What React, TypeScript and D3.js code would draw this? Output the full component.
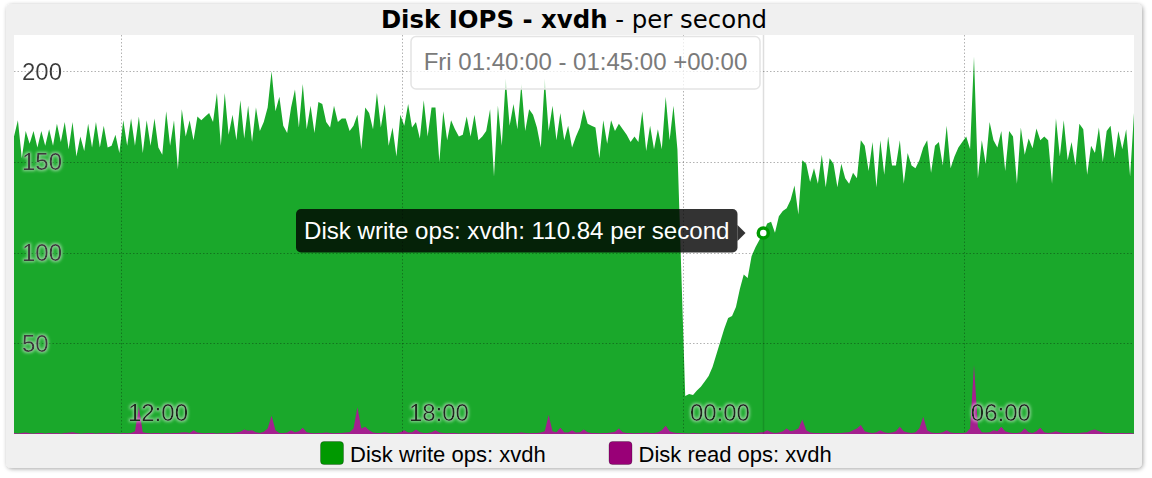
import React from 'react';
import * as d3 from 'd3';

// ---- data ----
const startTime = Date.UTC(2016, 0, 7, 9, 43); // Thu 09:43 UTC
const stepMs = 5 * 60 * 1000;

const writeOps: number[] = [
  164,173,152,167,160,167,158,167,159,168,159,171,161,172,157,172,153,164,156,171,158,172,158,170,
  158,159,165,155,173,159,174,159,175,155,173,159,174,158,154,178,159,173,146,179,164,173,162,175,
  173,175,177,172,188,159,188,165,176,162,184,163,181,161,180,167,172,180,200,178,186,170,166,180,
  190,169,193,168,181,166,183,182,172,169,181,172,174,174,167,170,176,157,180,177,168,188,169,182,
  159,169,153,176,170,182,169,172,163,184,164,180,180,150,178,162,173,168,164,165,175,164,176,162,
  164,167,179,142,181,159,196,170,182,168,193,167,179,176,169,158,196,167,181,162,177,162,170,158,
  164,169,179,171,170,169,152,173,160,173,167,171,168,165,161,164,161,178,156,170,157,168,157,186,
  162,181,157,89,21,22,21.5,24,26,29,32,37,44,51,58,64,65,70,80,88,86,98,103,107,
  110.84,116,117,111,120,123,124.5,129,137,121,151,149,139,146.5,138,154,136,152,149,136,149,141,138,144,
  141,162,159,145,161,136,162,143,164,148,148,162,138,155,148,146.5,151,158,162,144,159,161,148,170,
  146.5,153,158,161,164,157,208,141,162,149,172,162,158,167,145,167,164,138,169,154,163,157.5,168.5,162,
  164,162,138,174,153,173,151,161,148,171,168,143,159,155,169,150,167,170,152,167,157,168,142,177,
];

const readOps: number[] = [
  0.5,0.3,0.5,0.8,0.4,0.3,0.5,0.6,0.3,0.5,0.4,0.6,0.3,0.5,0.7,1,0.5,0.3,0.4,0.6,0.5,0.3,0.5,0.4,
  0.5,0.6,0.4,0.3,0.5,0.4,0.6,1.5,15,1,0.5,0.4,0.6,0.5,0.3,0.5,0.4,0.6,0.5,0.8,1,0.6,2,0.8,
  0.5,0.4,0.6,0.5,0.3,0.5,0.4,0.6,0.5,0.8,1.2,2.5,1.8,2,1,0.6,1.2,3,10,2,0.6,0.5,0.8,2,
  1,1.5,3.5,1,0.5,0.4,0.6,0.5,0.8,0.5,0.4,0.6,0.5,0.8,1,3,14.7,3,4,2,0.8,0.5,0.6,1,
  0.5,0.4,0.6,1,2,0.8,1,2.5,1,0.6,0.5,1,2,0.8,0.5,0.4,0.6,0.5,0.3,0.5,0.4,0.6,0.5,0.4,
  0.5,0.6,0.4,0.5,0.3,0.6,0.5,0.4,0.6,0.5,0.8,0.5,0.4,0.6,0.5,0.8,1.5,10.5,1.5,1,3.5,1,0.8,2,
  0.8,1,2.5,1,0.6,0.5,0.4,0.6,0.5,0.8,1.2,3,1,0.6,0.5,0.4,0.6,0.5,0.8,0.5,0.6,1,2,4.5,
  1.5,0.8,0.6,0.5,0.4,0.3,0.5,0.4,0.3,0.5,0.6,0.4,0.5,0.3,0.6,0.5,0.8,1,0.6,0.5,0.4,0.6,0.5,0.8,
  1,2,1,0.6,0.8,1.5,3,1.5,2,3,8,2,0.8,0.6,0.5,0.4,0.6,0.5,0.4,0.6,0.5,0.8,1,2,
  3,5,1.5,0.8,0.6,1,2,1,0.6,0.8,1.5,4,1.5,0.8,0.6,1,3,9.5,2,0.8,0.6,0.5,1,2,
  0.8,0.5,0.6,0.5,0.8,3,38,4,1,0.8,1,2,1.5,4,1.5,0.8,0.6,0.5,1,3,1,0.6,1.5,3.5,
  1,0.6,0.8,1.5,0.8,0.5,0.6,0.5,0.4,0.6,0.8,1,2,2.5,1.5,0.8,0.6,0.5,0.4,0.6,0.5,0.4,0.5,0.3,
];

const yTickValues = [50, 100, 150, 200];
const hoverIndex = 192;
const titleBold = 'Disk IOPS - xvdh';
const titleRest = ' - per second';
const seriesNames = ['Disk write ops: xvdh', 'Disk read ops: xvdh'];
const seriesColors = ['#1aa82b', '#a4208f'];
const legendColors = ['#009900', '#990077'];
const tooltipTime = 'Fri 01:40:00 - 01:45:00 +00:00';
const unitText = 'per second';

// ---- layout ----
const W = 1152;
const H = 478;
const PL = 14, PR = 1134, PT = 35, PB = 434;
const SANS = '"Liberation Sans", Arial, Helvetica, sans-serif';

export default function App() {
  const times = writeOps.map((_, i) => startTime + i * stepMs);
  const x = d3.scaleUtc().domain([times[0], times[times.length - 1]]).range([PL, PR]);
  const y = d3.scaleLinear().domain([0, 220]).range([PB, PT]);
  const xTicks = x.ticks(d3.utcHour.every(6) as any);
  const fmt = d3.utcFormat('%H:%M');

  const area = d3
    .area<number>()
    .x((_, i) => x(times[i]))
    .y0(y(0))
    .y1((d) => y(d));

  const hx = x(times[hoverIndex]);
  const hy = y(writeOps[hoverIndex]);
  const tipText = `${seriesNames[0]}: ${writeOps[hoverIndex].toFixed(2)} ${unitText}`;

  return (
    <svg
      width={W}
      height={H}
      style={{ position: 'absolute', left: 0, top: 0, display: 'block' }}
      xmlns="http://www.w3.org/2000/svg"
    >
      <defs>
        <filter id="shadow" x="-5%" y="-5%" width="110%" height="110%">
          <feDropShadow dx="1" dy="1" stdDeviation="2" floodColor="#000" floodOpacity="0.35" />
        </filter>
        <filter id="glow" x="-20%" y="-40%" width="140%" height="180%">
          <feMorphology in="SourceAlpha" operator="dilate" radius="0.6" result="d" />
          <feGaussianBlur in="d" stdDeviation="1.6" result="b" />
          <feFlood floodColor="#ffffff" floodOpacity="0.5" />
          <feComposite in2="b" operator="in" result="g" />
          <feMerge>
            <feMergeNode in="g" />
            <feMergeNode in="SourceGraphic" />
          </feMerge>
        </filter>
        <clipPath id="plotClip">
          <rect x={PL} y={PT} width={PR - PL} height={PB - PT} />
        </clipPath>
      </defs>

      {/* panel */}
      <rect x={6} y={4} width={1136} height={464} rx={5} fill="#f0f0f0" filter="url(#shadow)" />

      {/* title */}
      <text x={574} y={28} textAnchor="middle" fontFamily='"DejaVu Sans", Verdana, sans-serif' fontSize={24.4} fill="#000">
        <tspan fontWeight="bold">{titleBold}</tspan>
        <tspan>{titleRest}</tspan>
      </text>

      {/* plot */}
      <rect x={PL} y={PT} width={PR - PL} height={PB - PT} fill="#fff" />
      <g clipPath="url(#plotClip)">
        <path d={area(writeOps) || ''} fill={seriesColors[0]} />
        <path d={area(readOps) || ''} fill={seriesColors[1]} />
      </g>

      {/* grid */}
      <g stroke="rgba(0,0,0,0.3)" strokeWidth={1} strokeDasharray="1.5,2">
        {yTickValues.map((v) => (
          <line key={'gy' + v} x1={PL} x2={PR} y1={Math.round(y(v)) + 0.5} y2={Math.round(y(v)) + 0.5} />
        ))}
        {xTicks.map((t) => (
          <line key={'gx' + +t} x1={Math.round(x(t)) + 0.5} x2={Math.round(x(t)) + 0.5} y1={PT} y2={PB} />
        ))}
      </g>

      {/* crosshair */}
      <line x1={Math.round(hx) + 0.5} x2={Math.round(hx) + 0.5} y1={PT} y2={PB} stroke="rgba(0,0,0,0.13)" strokeWidth={1.5} />

      {/* axis labels */}
      <g fontFamily={SANS} fontSize={24} filter="url(#glow)">
        {yTickValues.map((v) => (
          <text key={'ly' + v} x={22} y={y(v) + 8.5} fill="#3a3a3a">
            {v}
          </text>
        ))}
        {xTicks.map((t) => (
          <text key={'lx' + +t} x={x(t) + 7} y={421} fill="#1e2a1e">
            {fmt(t)}
          </text>
        ))}
      </g>

      {/* time tooltip */}
      <rect x={411} y={36.5} width={349} height={52.5} rx={5} fill="rgba(255,255,255,0.75)" stroke="#e4e4e4" strokeWidth={1.5} />
      <text x={585.5} y={70} textAnchor="middle" fontFamily={SANS} fontSize={24} fill="#7a7a7a">
        {tooltipTime}
      </text>

      {/* value tooltip */}
      <g>
        <rect x={296} y={209} width={441.5} height={43.5} rx={5} fill="rgba(0,0,0,0.8)" />
        <path d={`M${737.5},${hy - 8} L${745.5},${hy} L${737.5},${hy + 8} Z`} fill="rgba(0,0,0,0.8)" />
        <text x={304} y={238.5} fontFamily={SANS} fontSize={24.1} fill="#fff">
          {tipText}
        </text>
      </g>

      {/* marker */}
      <circle cx={hx} cy={hy} r={5} fill="#fff" stroke="#009900" strokeWidth={3.5} />

      {/* legend */}
      <g fontFamily={SANS} fontSize={22}>
        {[
          { x: 320, i: 0 },
          { x: 608.5, i: 1 },
        ].map(({ x: lx, i }) => (
          <g key={'lg' + i}>
            <rect x={lx + 0.5} y={441.5} width={23} height={23} rx={3.5} fill={legendColors[i]} stroke="rgba(0,0,0,0.25)" strokeWidth={1} />
            <text x={lx + 30} y={462} fill="#000">
              {seriesNames[i]}
            </text>
          </g>
        ))}
      </g>
    </svg>
  );
}
